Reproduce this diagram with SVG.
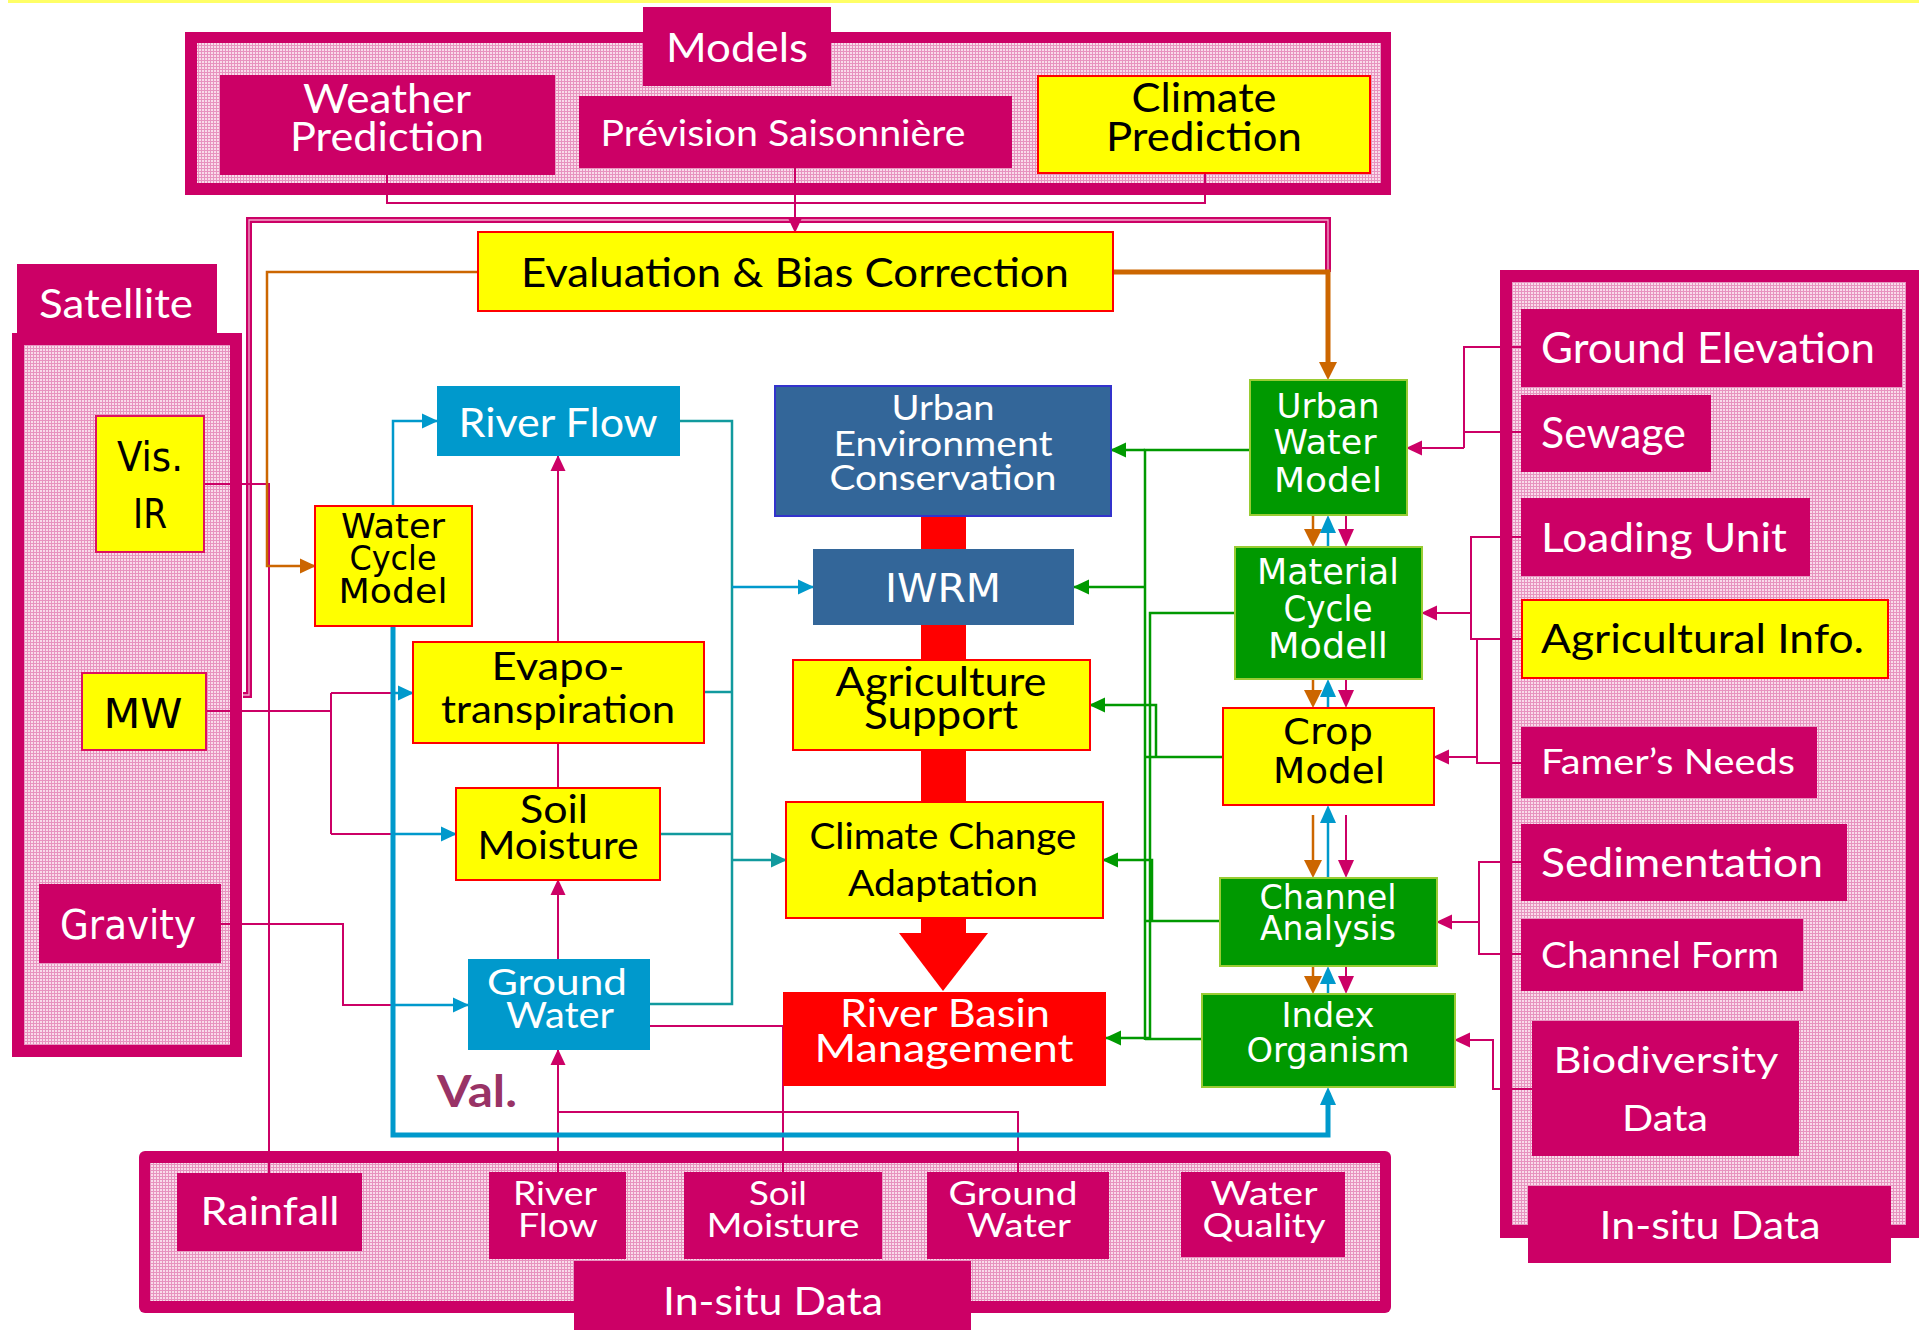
<svg xmlns="http://www.w3.org/2000/svg" width="1925" height="1330" viewBox="0 0 1925 1330">
<defs>
<pattern id="pk" width="3" height="3" patternUnits="userSpaceOnUse">
<rect width="3" height="3" fill="#f9dcea"/>
<rect width="3" height="1" fill="#e793bf"/>
<rect width="1" height="3" fill="#e793bf"/>
</pattern>
<marker id="aM" markerUnits="userSpaceOnUse" markerWidth="16" markerHeight="16" viewBox="0 0 16 16" refX="15" refY="8" orient="auto"><path d="M0,0.5 L16,8 L0,15.5 Z" fill="#cc0066"/></marker>
<marker id="aB" markerUnits="userSpaceOnUse" markerWidth="16" markerHeight="16" viewBox="0 0 16 16" refX="15" refY="8" orient="auto"><path d="M0,0.5 L16,8 L0,15.5 Z" fill="#0099cc"/></marker>
<marker id="aT" markerUnits="userSpaceOnUse" markerWidth="16" markerHeight="16" viewBox="0 0 16 16" refX="15" refY="8" orient="auto"><path d="M0,0.5 L16,8 L0,15.5 Z" fill="#119a9e"/></marker>
<marker id="aO" markerUnits="userSpaceOnUse" markerWidth="16" markerHeight="16" viewBox="0 0 16 16" refX="15" refY="8" orient="auto"><path d="M0,0.5 L16,8 L0,15.5 Z" fill="#cc6600"/></marker>
<marker id="aG" markerUnits="userSpaceOnUse" markerWidth="16" markerHeight="16" viewBox="0 0 16 16" refX="15" refY="8" orient="auto"><path d="M0,0.5 L16,8 L0,15.5 Z" fill="#009900"/></marker>
<marker id="tO" markerUnits="userSpaceOnUse" markerWidth="18" markerHeight="18" viewBox="0 0 18 18" refX="12" refY="9" orient="auto"><path d="M0,0 L18,9 L0,18 Z" fill="#cc6600"/></marker>
<marker id="tB" markerUnits="userSpaceOnUse" markerWidth="18" markerHeight="18" viewBox="0 0 18 18" refX="12" refY="9" orient="auto"><path d="M0,1 L18,9 L0,17 Z" fill="#0099cc"/></marker>
<marker id="tM" markerUnits="userSpaceOnUse" markerWidth="18" markerHeight="18" viewBox="0 0 18 18" refX="12" refY="9" orient="auto"><path d="M0,1 L18,9 L0,17 Z" fill="#cc0066"/></marker>
</defs>
<style>
.t{font-family:Lato,"Liberation Sans",sans-serif;text-anchor:middle}
.ts{font-family:Lato,"Liberation Sans",sans-serif;text-anchor:start}
.v{font-family:"DejaVu Sans",Verdana,sans-serif;text-anchor:middle}
.w{fill:#fff}
.k{fill:#000}
.mg{fill:#cc0066}
.pk{fill:url(#pk)}
.yl{fill:#ffff00;stroke:#ff0000;stroke-width:2}
.ym{fill:#ffff00;stroke:#dd1160;stroke-width:2}
.bl{fill:#0099cc}
.db{fill:#336699;stroke:#3333cc;stroke-width:2}
.gr{fill:#009900;stroke:#99cc33;stroke-width:2}
.rd{fill:#ff0000}
.cm{fill:none;stroke:#cc0066;stroke-width:2}
.co{fill:none;stroke:#cc6600;stroke-width:2.5}
.cb{fill:none;stroke:#0099cc;stroke-width:2.5}
.ct{fill:none;stroke:#119a9e;stroke-width:2.5}
.cg{fill:none;stroke:#009900;stroke-width:2.5}
.tk{fill:none;stroke-width:5}
</style>
<rect x="8" y="0" width="1911" height="3" fill="#ffff66"/>

<g id="models-frame">
<rect x="185" y="32" width="1206" height="163" class="mg"/>
<rect x="197" y="43" width="1184" height="140" class="pk"/>
<rect x="643" y="7" width="188" height="79" class="mg"/>
<text class="t w" x="737" y="62" font-size="40" textLength="142" lengthAdjust="spacingAndGlyphs">Models</text>
</g>
<g id="satellite-frame">
<rect x="12" y="333" width="230" height="724" class="mg"/>
<rect x="24" y="345" width="206" height="700" class="pk"/>
<rect x="17" y="264" width="200" height="70" class="mg"/>
<text class="t w" x="116" y="318" font-size="41" textLength="154" lengthAdjust="spacingAndGlyphs">Satellite</text>
</g>
<g id="insitu-right-frame">
<rect x="1500" y="270" width="419" height="968" class="mg"/>
<rect x="1512" y="282" width="394" height="943" class="pk"/>
</g>
<g id="insitu-bottom-frame">
<rect x="139" y="1151" width="1252" height="162" rx="6" class="mg"/>
<rect x="150" y="1163" width="1230" height="138" class="pk"/>
</g>

<g id="connectors">
<rect x="921" y="516" width="45" height="420" fill="#ff0000"/>
<polygon points="899,933 988,933 943,991" fill="#ff0000"/>
<path d="M243,695 H249 V220 H1328 V272" fill="none" stroke="#cc0066" stroke-width="6"/>
<path d="M243,695 H249 V220 H1328 V272" fill="none" stroke="#f2a8cc" stroke-width="1.3"/>
<path class="cm" d="M387,175 V203 H1205 V173"/>
<path class="cm" d="M795,168 V232" marker-end="url(#aM)"/>
<path class="cm" d="M204,484 H269 V1173"/>
<path class="cm" d="M206,711 H331"/>
<path class="cm" d="M331,693 V834"/>
<path class="cm" d="M331,693 H395"/>
<path class="cm" d="M331,834 H395"/>
<path class="cm" d="M221,924 H343 V1005 H395"/>
<path class="cm" d="M558,642 V456" marker-end="url(#aM)"/>
<path class="cm" d="M558,788 V743"/>
<path class="cm" d="M558,959 V880" marker-end="url(#aM)"/>
<path class="cm" d="M558,1172 V1050" marker-end="url(#aM)"/>
<path class="cm" d="M1018,1172 V1112 H558"/>
<path class="cm" d="M650,1026 H783 V1172"/>
<path class="cm" d="M1521,347 H1464 V448"/>
<path class="cm" d="M1521,432 H1464"/>
<path class="cm" d="M1464,448 H1407" marker-end="url(#aM)"/>
<path class="cm" d="M1521,537 H1471 V639 H1522"/>
<path class="cm" d="M1471,613 H1422" marker-end="url(#aM)"/>
<path class="cm" d="M1521,763 H1477 V639"/>
<path class="cm" d="M1477,757 H1434" marker-end="url(#aM)"/>
<path class="cm" d="M1521,862 H1479 V954 H1521"/>
<path class="cm" d="M1479,922 H1437" marker-end="url(#aM)"/>
<path class="cm" d="M1532,1089 H1493 V1040 H1455" marker-end="url(#aM)"/>
<path class="co" d="M478,272 H267 V566 H315" marker-end="url(#aO)"/>
<path class="co tk" d="M1113,272 H1328 V374" marker-end="url(#tO)"/>
<path class="cb" d="M393,506 V421 H437" marker-end="url(#aB)"/>
<path class="cb tk" d="M393,626 V1135 H1328 V1093" marker-end="url(#tB)"/>
<path class="cb" d="M393,693 H413" marker-end="url(#aB)"/>
<path class="cb" d="M393,834 H456" marker-end="url(#aB)"/>
<path class="cb" d="M393,1005 H468" marker-end="url(#aB)"/>
<path class="ct" d="M680,421 H732 V1004 H650"/>
<path class="ct" d="M704,692 H732"/>
<path class="ct" d="M660,834 H732"/>
<path class="cb" d="M732,587 H813" marker-end="url(#aB)"/>
<path class="ct" d="M732,860 H786" marker-end="url(#aT)"/>
<path class="cg" d="M1250,450 H1145 V1040"/>
<path class="cg" d="M1145,450 H1111" marker-end="url(#aG)"/>
<path class="cg" d="M1145,587 H1074" marker-end="url(#aG)"/>
<path class="cg" d="M1235,613 H1150 V1040"/>
<path class="cg" d="M1223,757 H1145"/>
<path class="cg" d="M1156,757 V705 H1090" marker-end="url(#aG)"/>
<path class="cg" d="M1220,921 H1145"/>
<path class="cg" d="M1152,921 V860 H1103" marker-end="url(#aG)"/>
<path class="cg" d="M1202,1039 H1145"/>
<path class="cg" d="M1150,1038 H1106" marker-end="url(#aG)"/>
<path class="co" stroke-width="4.5" d="M1313,516 V541" marker-end="url(#tO)"/>
<path class="cb" stroke-width="4.5" d="M1328,547 V521" marker-end="url(#tB)"/>
<path class="cm" stroke-width="4.5" d="M1346,516 V541" marker-end="url(#tM)"/>
<path class="co" stroke-width="4.5" d="M1313,680 V702" marker-end="url(#tO)"/>
<path class="cb" stroke-width="4.5" d="M1328,708 V685" marker-end="url(#tB)"/>
<path class="cm" stroke-width="4.5" d="M1346,680 V702" marker-end="url(#tM)"/>
<path class="co" stroke-width="4.5" d="M1313,815 V872" marker-end="url(#tO)"/>
<path class="cb" stroke-width="4.5" d="M1328,878 V811" marker-end="url(#tB)"/>
<path class="cm" stroke-width="4.5" d="M1346,815 V872" marker-end="url(#tM)"/>
<path class="co" stroke-width="4.5" d="M1313,967 V988" marker-end="url(#tO)"/>
<path class="cb" stroke-width="4.5" d="M1328,994 V972" marker-end="url(#tB)"/>
<path class="cm" stroke-width="4.5" d="M1346,967 V988" marker-end="url(#tM)"/>
</g>

<g id="weather-prediction">
<rect x="220" y="75" width="335" height="100" class="mg"/>
<text class="t w" x="387" y="113" font-size="41" textLength="168" lengthAdjust="spacingAndGlyphs">Weather</text>
<text class="t w" x="387" y="151" font-size="41" textLength="194" lengthAdjust="spacingAndGlyphs">Prediction</text>
</g>
<g id="prevision-saisonniere">
<rect x="579" y="96" width="433" height="72" class="mg"/>
<text class="t w" x="783" y="146" font-size="37" textLength="365" lengthAdjust="spacingAndGlyphs">Prévision Saisonnière</text>
</g>
<g id="climate-prediction">
<rect x="1038" y="76" width="332" height="97" class="yl"/>
<text class="t k" x="1204" y="112" font-size="41" textLength="145" lengthAdjust="spacingAndGlyphs">Climate</text>
<text class="t k" x="1204" y="151" font-size="41" textLength="196" lengthAdjust="spacingAndGlyphs">Prediction</text>
</g>
<g id="evaluation">
<rect x="478" y="232" width="635" height="79" class="yl"/>
<text class="t k" x="795" y="287" font-size="40" textLength="548" lengthAdjust="spacingAndGlyphs">Evaluation &amp; Bias Correction</text>
</g>
<g id="vis-ir">
<rect x="96" y="416" width="108" height="136" class="ym"/>
<text class="v k" x="150" y="471" font-size="40" textLength="66" lengthAdjust="spacingAndGlyphs">Vis.</text>
<text class="v k" x="150" y="528" font-size="40" textLength="34" lengthAdjust="spacingAndGlyphs">IR</text>
</g>
<g id="mw">
<rect x="82" y="673" width="124" height="77" class="ym"/>
<text class="v k" x="143" y="728" font-size="41" textLength="79" lengthAdjust="spacingAndGlyphs">MW</text>
</g>
<g id="gravity">
<rect x="39" y="884" width="182" height="79" class="mg"/>
<text class="v w" x="128" y="939" font-size="41" textLength="136" lengthAdjust="spacingAndGlyphs">Gravity</text>
</g>
<g id="water-cycle-model">
<rect x="315" y="506" width="157" height="120" class="yl"/>
<text class="v k" x="393" y="538" font-size="34" textLength="104" lengthAdjust="spacingAndGlyphs">Water</text>
<text class="v k" x="393" y="570" font-size="34" textLength="87" lengthAdjust="spacingAndGlyphs">Cycle</text>
<text class="v k" x="393" y="603" font-size="34" textLength="109" lengthAdjust="spacingAndGlyphs">Model</text>
</g>
<g id="river-flow">
<rect x="437" y="386" width="243" height="70" class="bl"/>
<text class="t w" x="558" y="437" font-size="40" textLength="199" lengthAdjust="spacingAndGlyphs">River Flow</text>
</g>
<g id="evapotranspiration">
<rect x="413" y="642" width="291" height="101" class="yl"/>
<text class="t k" x="558" y="680" font-size="38" textLength="133" lengthAdjust="spacingAndGlyphs">Evapo-</text>
<text class="t k" x="558" y="723" font-size="38" textLength="234" lengthAdjust="spacingAndGlyphs">transpiration</text>
</g>
<g id="soil-moisture">
<rect x="456" y="788" width="204" height="92" class="yl"/>
<text class="t k" x="554" y="823" font-size="38" textLength="68" lengthAdjust="spacingAndGlyphs">Soil</text>
<text class="t k" x="558" y="859" font-size="38" textLength="161" lengthAdjust="spacingAndGlyphs">Moisture</text>
</g>
<g id="ground-water">
<rect x="468" y="959" width="182" height="91" class="bl"/>
<text class="t w" x="557" y="995" font-size="36" textLength="140" lengthAdjust="spacingAndGlyphs">Ground</text>
<text class="t w" x="560" y="1028" font-size="36" textLength="108" lengthAdjust="spacingAndGlyphs">Water</text>
</g>
<g id="urban-environment-conservation">
<rect x="775" y="386" width="336" height="130" class="db"/>
<text class="t w" x="943" y="420" font-size="34" textLength="103" lengthAdjust="spacingAndGlyphs">Urban</text>
<text class="t w" x="943" y="456" font-size="34" textLength="219" lengthAdjust="spacingAndGlyphs">Environment</text>
<text class="t w" x="943" y="490" font-size="34" textLength="227" lengthAdjust="spacingAndGlyphs">Conservation</text>
</g>
<g id="iwrm">
<rect x="813" y="549" width="261" height="76" fill="#336699"/>
<text class="v w" x="943" y="602" font-size="39" textLength="116" lengthAdjust="spacingAndGlyphs">IWRM</text>
</g>
<g id="agriculture-support">
<rect x="793" y="660" width="297" height="90" class="yl"/>
<text class="t k" x="941" y="696" font-size="40" textLength="211" lengthAdjust="spacingAndGlyphs">Agriculture</text>
<text class="t k" x="941" y="729" font-size="40" textLength="154" lengthAdjust="spacingAndGlyphs">Support</text>
</g>
<g id="climate-change-adaptation">
<rect x="786" y="802" width="317" height="116" class="yl"/>
<text class="t k" x="943" y="849" font-size="37" textLength="267" lengthAdjust="spacingAndGlyphs">Climate Change</text>
<text class="t k" x="943" y="896" font-size="37" textLength="190" lengthAdjust="spacingAndGlyphs">Adaptation</text>
</g>
<g id="river-basin-management">
<rect x="783" y="992" width="323" height="94" class="rd"/>
<text class="t w" x="945" y="1027" font-size="38" textLength="210" lengthAdjust="spacingAndGlyphs">River Basin</text>
<text class="t w" x="944" y="1062" font-size="38" textLength="259" lengthAdjust="spacingAndGlyphs">Management</text>
</g>
<g id="val-label">
<text x="437" y="1107" font-family="Lato, 'Liberation Sans', sans-serif" font-weight="700" font-size="44" fill="#993366" textLength="80" lengthAdjust="spacingAndGlyphs">Val.</text>
</g>
<g id="urban-water-model">
<rect x="1250" y="380" width="157" height="135" class="gr"/>
<text class="v w" x="1328" y="418" font-size="34" textLength="103" lengthAdjust="spacingAndGlyphs">Urban</text>
<text class="v w" x="1325" y="454" font-size="34" textLength="103" lengthAdjust="spacingAndGlyphs">Water</text>
<text class="v w" x="1328" y="492" font-size="34" textLength="108" lengthAdjust="spacingAndGlyphs">Model</text>
</g>
<g id="material-cycle-modell">
<rect x="1235" y="547" width="187" height="132" class="gr"/>
<text class="v w" x="1328" y="584" font-size="35" textLength="142" lengthAdjust="spacingAndGlyphs">Material</text>
<text class="v w" x="1328" y="621" font-size="35" textLength="89" lengthAdjust="spacingAndGlyphs">Cycle</text>
<text class="v w" x="1328" y="658" font-size="35" textLength="120" lengthAdjust="spacingAndGlyphs">Modell</text>
</g>
<g id="crop-model">
<rect x="1223" y="708" width="211" height="97" class="yl"/>
<text class="v k" x="1328" y="744" font-size="36" textLength="90" lengthAdjust="spacingAndGlyphs">Crop</text>
<text class="v k" x="1329" y="783" font-size="36" textLength="112" lengthAdjust="spacingAndGlyphs">Model</text>
</g>
<g id="channel-analysis">
<rect x="1220" y="878" width="217" height="88" class="gr"/>
<text class="v w" x="1328" y="909" font-size="34" textLength="137" lengthAdjust="spacingAndGlyphs">Channel</text>
<text class="v w" x="1328" y="940" font-size="34" textLength="136" lengthAdjust="spacingAndGlyphs">Analysis</text>
</g>
<g id="index-organism">
<rect x="1202" y="994" width="253" height="93" class="gr"/>
<text class="v w" x="1328" y="1027" font-size="33" textLength="93" lengthAdjust="spacingAndGlyphs">Index</text>
<text class="v w" x="1328" y="1062" font-size="33" textLength="163" lengthAdjust="spacingAndGlyphs">Organism</text>
</g>
<g id="ground-elevation">
<rect x="1521" y="309" width="381" height="78" class="mg"/>
<text class="ts w" x="1541" y="363" font-size="42" textLength="334" lengthAdjust="spacingAndGlyphs">Ground Elevation</text>
</g>
<g id="sewage">
<rect x="1521" y="395" width="190" height="77" class="mg"/>
<text class="ts w" x="1541" y="448" font-size="42" textLength="145" lengthAdjust="spacingAndGlyphs">Sewage</text>
</g>
<g id="loading-unit">
<rect x="1521" y="498" width="289" height="78" class="mg"/>
<text class="ts w" x="1541" y="552" font-size="41" textLength="246" lengthAdjust="spacingAndGlyphs">Loading Unit</text>
</g>
<g id="agricultural-info">
<rect x="1522" y="600" width="366" height="78" class="yl"/>
<text class="ts k" x="1541" y="653" font-size="41" textLength="323" lengthAdjust="spacingAndGlyphs">Agricultural Info.</text>
</g>
<g id="famers-needs">
<rect x="1521" y="727" width="296" height="71" class="mg"/>
<text class="ts w" x="1541" y="774" font-size="34" textLength="254" lengthAdjust="spacingAndGlyphs">Famer’s Needs</text>
</g>
<g id="sedimentation">
<rect x="1521" y="824" width="326" height="77" class="mg"/>
<text class="ts w" x="1541" y="877" font-size="41" textLength="282" lengthAdjust="spacingAndGlyphs">Sedimentation</text>
</g>
<g id="channel-form">
<rect x="1521" y="919" width="282" height="72" class="mg"/>
<text class="ts w" x="1541" y="968" font-size="36" textLength="238" lengthAdjust="spacingAndGlyphs">Channel Form</text>
</g>
<g id="biodiversity-data">
<rect x="1532" y="1021" width="267" height="135" class="mg"/>
<text class="t w" x="1666" y="1073" font-size="37" textLength="225" lengthAdjust="spacingAndGlyphs">Biodiversity</text>
<text class="t w" x="1665" y="1131" font-size="37" textLength="86" lengthAdjust="spacingAndGlyphs">Data</text>
</g>
<g id="insitu-right-label">
<rect x="1528" y="1186" width="363" height="77" class="mg"/>
<text class="t w" x="1710" y="1239" font-size="38" textLength="221" lengthAdjust="spacingAndGlyphs">In-situ Data</text>
</g>
<g id="rainfall">
<rect x="177" y="1173" width="185" height="78" class="mg"/>
<text class="t w" x="270" y="1225" font-size="39" textLength="139" lengthAdjust="spacingAndGlyphs">Rainfall</text>
</g>
<g id="insitu-river-flow">
<rect x="489" y="1172" width="137" height="87" class="mg"/>
<text class="t w" x="555" y="1205" font-size="33" textLength="84" lengthAdjust="spacingAndGlyphs">River</text>
<text class="t w" x="558" y="1237" font-size="33" textLength="80" lengthAdjust="spacingAndGlyphs">Flow</text>
</g>
<g id="insitu-soil-moisture">
<rect x="684" y="1172" width="198" height="87" class="mg"/>
<text class="t w" x="778" y="1205" font-size="33" textLength="58" lengthAdjust="spacingAndGlyphs">Soil</text>
<text class="t w" x="783" y="1237" font-size="33" textLength="153" lengthAdjust="spacingAndGlyphs">Moisture</text>
</g>
<g id="insitu-ground-water">
<rect x="927" y="1172" width="182" height="87" class="mg"/>
<text class="t w" x="1013" y="1205" font-size="33" textLength="129" lengthAdjust="spacingAndGlyphs">Ground</text>
<text class="t w" x="1019" y="1237" font-size="33" textLength="104" lengthAdjust="spacingAndGlyphs">Water</text>
</g>
<g id="water-quality">
<rect x="1181" y="1172" width="164" height="85" class="mg"/>
<text class="t w" x="1264" y="1205" font-size="33" textLength="107" lengthAdjust="spacingAndGlyphs">Water</text>
<text class="t w" x="1264" y="1237" font-size="33" textLength="123" lengthAdjust="spacingAndGlyphs">Quality</text>
</g>
<g id="insitu-bottom-label">
<rect x="574" y="1261" width="397" height="69" class="mg"/>
<text class="t w" x="773" y="1315" font-size="38" textLength="220" lengthAdjust="spacingAndGlyphs">In-situ Data</text>
</g>
</svg>
